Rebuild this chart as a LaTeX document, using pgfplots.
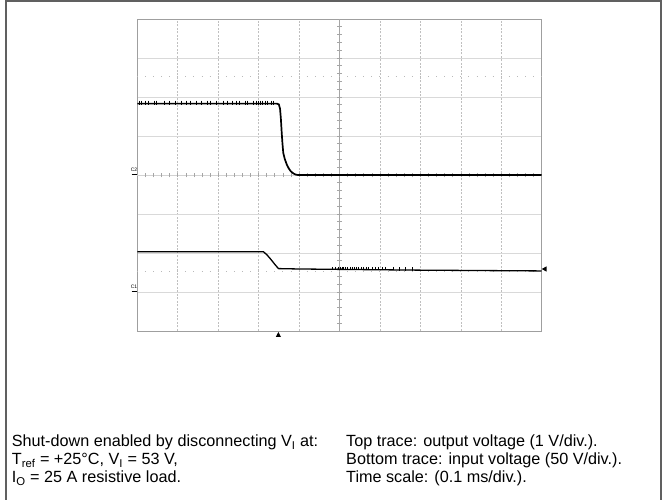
\documentclass[border=0pt]{standalone}
\usepackage{pgfplots}
\pgfplotsset{compat=1.18}
\usepackage{fontspec}
\setmainfont{Liberation Sans}
\begin{document}
\begin{tikzpicture}[x=1pt,y=1pt]
\useasboundingbox (0,0) rectangle (662,500);
\draw[gray!75!black, line width=1.4pt] (6,0) -- (6,499) -- (661,499) -- (661,0);
\begin{axis}[at={(137.3pt,169pt)}, anchor=south west, width=404.4pt, height=312pt, scale only axis,
 xmin=0,xmax=10,ymin=-4,ymax=4,
 xtick={1,...,9}, ytick={-3,-2,-1,1,2,3}, xticklabels={}, yticklabels={}, major tick length=0pt,
 xmajorgrids, ymajorgrids,
 x grid style={gray!50, line width=0.6pt, dash pattern=on 2pt off 1.5pt},
 y grid style={gray!30, line width=0.9pt},
 axis line style={gray!75, line width=0.8pt},
 clip=false]
% centre lines with small divisions
\draw[gray!70, line width=0.7pt] (axis cs:5,-4) -- (axis cs:5,4);
\draw[gray!35, line width=0.6pt] (axis cs:0,0) -- (axis cs:10,0);
\pgfplotsinvokeforeach{-3.8,-3.6,...,3.81}{\draw[gray!70, line width=0.6pt] (axis cs:4.94,#1) -- (axis cs:5.06,#1);}
\pgfplotsinvokeforeach{0.2,0.4,...,9.81}{\draw[gray!70, line width=0.6pt] (axis cs:#1,-0.06) -- (axis cs:#1,0.06);}
% 10/90 percent dotted markers
\draw[gray!55, line width=0.9pt, dash pattern=on 0.9pt off 7.188pt, dash phase=0.45pt] (axis cs:0,2.52) -- (axis cs:10,2.52);
\draw[gray!55, line width=0.9pt, dash pattern=on 0.9pt off 7.188pt, dash phase=0.45pt] (axis cs:0,-2.48) -- (axis cs:10,-2.48);
% top trace: output voltage
\addplot[black, line width=1.7pt] coordinates {
(0,1.83) (3.45,1.83) (3.50,1.81) (3.53,1.70) (3.55,1.45) (3.57,1.10) (3.59,0.80) (3.61,0.56) (3.65,0.40) (3.70,0.26) (3.75,0.16) (3.80,0.09) (3.86,0.04) (3.92,0.01) (3.97,0) (10,0)};
\addplot[only marks, black, mark=|, mark size=2.2pt, mark options={line width=0.5pt}] coordinates {
(0.04,1.85) (0.10,1.85) (0.19,1.85) (0.27,1.85) (0.41,1.85) (0.48,1.85) (0.66,1.85) (0.79,1.85) (0.95,1.85)
(1.09,1.85) (1.22,1.85) (1.31,1.85) (1.47,1.85) (1.58,1.85) (1.73,1.85) (1.80,1.85) (1.96,1.85)
(2.13,1.85) (2.22,1.85) (2.36,1.85) (2.45,1.85) (2.52,1.85) (2.66,1.85) (2.72,1.85) (2.86,1.85)
(2.93,1.85) (2.98,1.85) (3.04,1.85) (3.10,1.85) (3.16,1.85) (3.22,1.85) (3.30,1.85) (3.36,1.85)};
% bottom trace: input voltage
\addplot[black, line width=1.3pt] coordinates {
(0,-1.97) (3.12,-1.97) (3.20,-2.04) (3.30,-2.16) (3.40,-2.29) (3.49,-2.40) (4.0,-2.41) (5.0,-2.42) (7.0,-2.44) (10,-2.46)};
\addplot[only marks, black, mark=|, mark size=1.6pt, mark options={line width=0.5pt}] coordinates {
(4.82,-2.40) (4.90,-2.40) (4.96,-2.40) (5.02,-2.40) (5.06,-2.40) (5.10,-2.40) (5.15,-2.40) (5.20,-2.40) (5.26,-2.40) (5.31,-2.40) (5.36,-2.40)
(5.42,-2.40) (5.47,-2.40) (5.53,-2.40) (5.58,-2.40) (5.65,-2.40) (5.72,-2.40) (5.80,-2.40) (5.88,-2.40) (5.95,-2.40) (6.05,-2.40) (6.12,-2.40)
(6.32,-2.40) (6.48,-2.41) (6.62,-2.41) (6.80,-2.41)};
\end{axis}
% channel markers
\node[font=\fontsize{5}{5}\selectfont, inner sep=0] at (134,330.5) {C2};
\draw[black, line width=1.4pt] (131.5,325.3) -- (137,325.3);
\node[font=\fontsize{5}{5}\selectfont, inner sep=0] at (134,213.5) {C1};
\draw[black, line width=1.4pt] (131.5,208.2) -- (137,208.2);
\fill[black] (541.7,231) -- (546.5,233.6) -- (546.5,228.4) -- cycle;
\fill[black] (278.4,168) -- (275.8,163) -- (281,163) -- cycle;
% caption text
\begin{scope}[every node/.style={anchor=base west, inner sep=0, font=\fontsize{16.2}{18}\selectfont}]
\node at (11.7,53.5) {Shut-down enabled by disconnecting V\textsubscript{I} at:};
\node at (11.7,35.5) {T\textsubscript{ref} = +25°C, V\textsubscript{I} = 53 V,};
\node at (11.7,17.5) {I\textsubscript{O} = 25 A resistive load.};
\node at (346,53.5) {Top trace: output voltage (1 V/div.).};
\node at (346,35.5) {Bottom trace: input voltage (50 V/div.).};
\node at (346,17.5) {Time scale: (0.1 ms/div.).};
\end{scope}
\end{tikzpicture}
\end{document}
